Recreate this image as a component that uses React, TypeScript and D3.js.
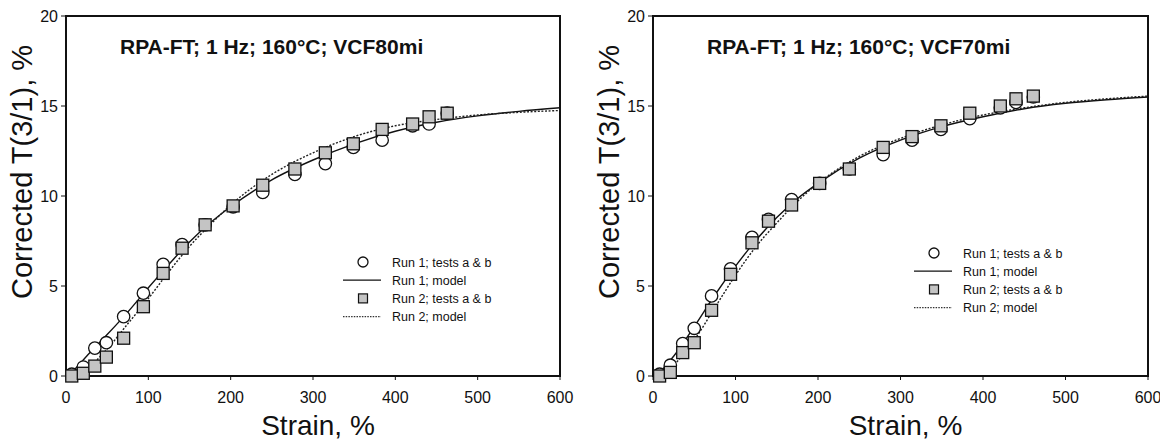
import React from "react";
import * as d3 from "d3";

// ---------- data ----------
const titleLeft = "RPA-FT; 1 Hz; 160°C; VCF80mi";
const titleRight = "RPA-FT; 1 Hz; 160°C; VCF70mi";

const xTicks = [0, 100, 200, 300, 400, 500, 600];
const yTicks = [0, 5, 10, 15, 20];

const legendLabels = ["Run 1; tests a & b", "Run 1; model", "Run 2; tests a & b", "Run 2; model"];

// Left panel (VCF80mi) measured points
const strainL = [7, 21, 35, 49, 70, 94, 118, 141, 169, 203, 239, 278, 315, 349, 384, 421, 441, 463];
const run1L = [0.1, 0.5, 1.55, 1.85, 3.3, 4.6, 6.2, 7.3, 8.4, 9.4, 10.2, 11.2, 11.8, 12.7, 13.1, 13.9, 14.0, 14.6];
const run2L = [0.0, 0.15, 0.55, 1.05, 2.1, 3.85, 5.7, 7.1, 8.4, 9.45, 10.6, 11.5, 12.4, 12.9, 13.7, 14.0, 14.4, 14.6];

// Right panel (VCF70mi) measured points
const strainR = [8, 21, 36, 50, 71, 94, 120, 140, 168, 202, 238, 279, 314, 349, 384, 421, 440, 461];
const run1R = [0.1, 0.6, 1.8, 2.65, 4.45, 5.95, 7.7, 8.7, 9.8, 10.7, 11.5, 12.3, 13.1, 13.7, 14.3, 14.9, 15.2, 15.5];
const run2R = [0.0, 0.2, 1.3, 1.85, 3.65, 5.65, 7.4, 8.6, 9.5, 10.7, 11.5, 12.7, 13.3, 13.9, 14.6, 15.0, 15.4, 15.55];

// Model curves
const modelStrain = [0, 10, 25, 50, 75, 100, 125, 150, 175, 200, 250, 300, 350, 400, 450, 500, 550, 600];
const model1L = [0, 0.35, 1.1, 2.3, 3.55, 4.9, 6.2, 7.45, 8.5, 9.4, 10.9, 12.0, 12.9, 13.6, 14.1, 14.45, 14.7, 14.9];
const model2L = [0, 0.05, 0.4, 1.5, 2.9, 4.3, 5.8, 7.2, 8.4, 9.5, 11.2, 12.4, 13.3, 13.9, 14.25, 14.5, 14.65, 14.75];
const model1R = [0, 0.3, 1.1, 2.75, 4.5, 6.1, 7.55, 8.8, 9.85, 10.7, 12.1, 13.1, 13.85, 14.4, 14.85, 15.15, 15.35, 15.5];
const model2R = [0, 0.05, 0.6, 2.0, 3.8, 5.6, 7.2, 8.5, 9.7, 10.7, 12.2, 13.2, 13.95, 14.5, 14.9, 15.2, 15.4, 15.55];

const FONT = "'Liberation Sans', Arial, Helvetica, sans-serif";

type PanelProps = {
  left: number;
  right: number;
  top: number;
  bottom: number;
  title: string;
  strain: number[];
  run1: number[];
  run2: number[];
  model1: number[];
  model2: number[];
  legendX: number;
  legendY: number;
};

function Panel(p: PanelProps) {
  const x = d3.scaleLinear().domain([0, 600]).range([p.left, p.right]);
  const y = d3.scaleLinear().domain([0, 20]).range([p.bottom, p.top]);
  const line = d3
    .line<[number, number]>()
    .x((d) => x(d[0]))
    .y((d) => y(d[1]))
    .curve(d3.curveMonotoneX);
  const m1 = line(modelStrain.map((s, i) => [s, p.model1[i]] as [number, number])) || "";
  const m2 = line(modelStrain.map((s, i) => [s, p.model2[i]] as [number, number])) || "";
  const sq = 12;
  const rowH = 18.2;
  const lx = p.legendX;
  const ly = p.legendY;
  return (
    <g>
      {/* frame */}
      <rect x={p.left} y={p.top} width={p.right - p.left} height={p.bottom - p.top} fill="none" stroke="#111" strokeWidth={2} />
      {/* ticks */}
      {xTicks.map((t) => (
        <g key={"x" + t}>
          <line x1={x(t)} x2={x(t)} y1={p.bottom} y2={p.bottom + 4} stroke="#111" strokeWidth={1} />
          <text x={x(t)} y={403} textAnchor="middle" fontSize={16} fontFamily={FONT} fill="#111">
            {t}
          </text>
        </g>
      ))}
      {yTicks.map((t) => (
        <g key={"y" + t}>
          <line x1={p.left - 5} x2={p.left} y1={y(t)} y2={y(t)} stroke="#111" strokeWidth={1} />
          <text x={p.left - 8} y={y(t) + 6} textAnchor="end" fontSize={16} fontFamily={FONT} fill="#111">
            {t}
          </text>
        </g>
      ))}
      {/* axis titles */}
      <text
        transform={`translate(${p.left - 34},${172}) rotate(-90)`}
        textAnchor="middle"
        fontSize={29}
        fontFamily={FONT}
        fill="#111"
      >
        Corrected T(3/1), %
      </text>
      <text x={(p.left + p.right) / 2 + 5} y={435} textAnchor="middle" fontSize={28} fontFamily={FONT} fill="#111">
        Strain, %
      </text>
      {/* panel title */}
      <text x={p.left + 54} y={54} fontSize={21} fontWeight="bold" fontFamily={FONT} fill="#111">
        {p.title}
      </text>
      {/* model curves */}
      <path d={m1} fill="none" stroke="#111" strokeWidth={1.4} />
      <path d={m2} fill="none" stroke="#222" strokeWidth={1.4} strokeDasharray="2,1.6" />
      {/* run 1 circles */}
      {p.strain.map((s, i) => (
        <circle key={"c" + i} cx={x(s)} cy={y(p.run1[i])} r={6.2} fill="#fff" stroke="#111" strokeWidth={1.3} />
      ))}
      {/* run 2 squares */}
      {p.strain.map((s, i) => (
        <rect
          key={"s" + i}
          x={x(s) - sq / 2}
          y={y(p.run2[i]) - sq / 2}
          width={sq}
          height={sq}
          fill="#c4c4c4"
          stroke="#111"
          strokeWidth={1.3}
        />
      ))}
      {/* legend */}
      <g fontFamily={FONT} fontSize={12.5} fill="#111">
        <circle cx={lx} cy={ly} r={5} fill="#fff" stroke="#111" strokeWidth={1.3} />
        <line x1={lx - 20} x2={lx + 18} y1={ly + rowH} y2={ly + rowH} stroke="#111" strokeWidth={1.3} />
        <rect x={lx - 4.5} y={ly + 2 * rowH - 4.5} width={9} height={9} fill="#c4c4c4" stroke="#111" strokeWidth={1.2} />
        <line
          x1={lx - 20}
          x2={lx + 18}
          y1={ly + 3 * rowH}
          y2={ly + 3 * rowH}
          stroke="#333"
          strokeWidth={1.2}
          strokeDasharray="1.5,1.2"
        />
        {legendLabels.map((l, i) => (
          <text key={l} x={lx + 29} y={ly + i * rowH + 4.5}>
            {l}
          </text>
        ))}
      </g>
    </g>
  );
}

export default function App() {
  return (
    <svg
      width={1160}
      height={440}
      viewBox="0 0 1160 440"
      style={{ position: "absolute", left: 0, top: 0, background: "#fff" }}
    >
      <rect x={0} y={0} width={1160} height={440} fill="#fff" />
      <Panel
        left={66}
        right={560}
        top={16}
        bottom={376}
        title={titleLeft}
        strain={strainL}
        run1={run1L}
        run2={run2L}
        model1={model1L}
        model2={model2L}
        legendX={363}
        legendY={262}
      />
      <Panel
        left={653}
        right={1148}
        top={16}
        bottom={376}
        title={titleRight}
        strain={strainR}
        run1={run1R}
        run2={run2R}
        model1={model1R}
        model2={model2R}
        legendX={934}
        legendY={253}
      />
    </svg>
  );
}
